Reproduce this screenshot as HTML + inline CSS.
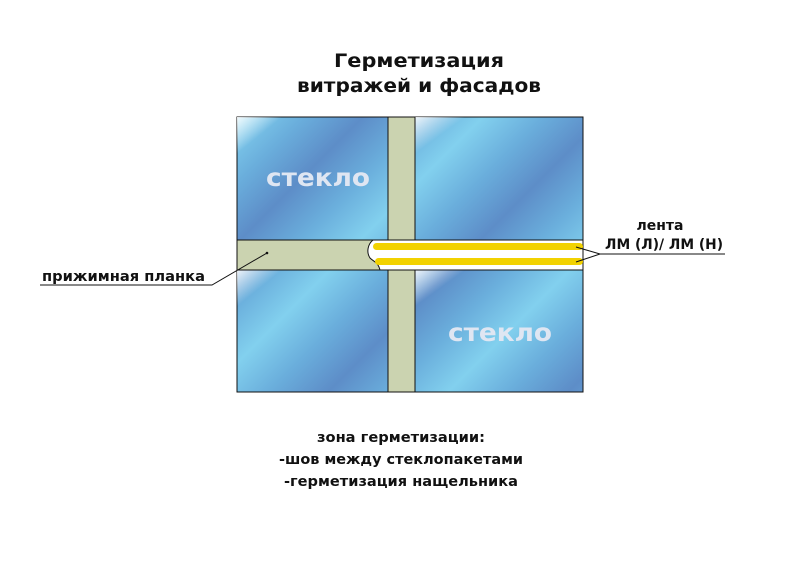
<!DOCTYPE html>
<html><head><meta charset="utf-8"><style>
body{margin:0;width:800px;height:557px;background:#fff;overflow:hidden}
svg text{font-family:"DejaVu Sans","Liberation Sans",sans-serif;font-weight:bold}
</style></head><body>
<svg width="800" height="557" viewBox="0 0 800 557" xmlns="http://www.w3.org/2000/svg">
<defs>
<linearGradient id="g" gradientUnits="userSpaceOnUse" x1="0" y1="0" x2="60" y2="60" spreadMethod="reflect">
<stop offset="0" stop-color="#5d8dc8"/><stop offset="0.5" stop-color="#6aaedc"/><stop offset="1" stop-color="#82d0ee"/>
</linearGradient>
<linearGradient id="h" x1="0" y1="0" x2="0.6" y2="0.6">
<stop offset="0" stop-color="#fff" stop-opacity="0.9"/><stop offset="0.25" stop-color="#fff" stop-opacity="0"/>
</linearGradient>
</defs>
<text x="419" y="67" font-size="19" text-anchor="middle" fill="#111" textLength="170" lengthAdjust="spacingAndGlyphs">Герметизация</text>
<text x="419" y="92" font-size="19" text-anchor="middle" fill="#111" textLength="244" lengthAdjust="spacingAndGlyphs">витражей и фасадов</text>
<g stroke="#111" stroke-width="1">
<rect x="237" y="117" width="151" height="123" fill="url(#g)"/>
<rect x="237" y="117" width="151" height="123" fill="url(#h)" stroke="none"/>
<rect x="415" y="117" width="168" height="123" fill="url(#g)"/>
<rect x="415" y="117" width="168" height="123" fill="url(#h)" stroke="none"/>
<rect x="237" y="270" width="151" height="122" fill="url(#g)"/>
<rect x="237" y="270" width="151" height="122" fill="url(#h)" stroke="none"/>
<rect x="415" y="270" width="168" height="122" fill="url(#g)"/>
<rect x="415" y="270" width="168" height="122" fill="url(#h)" stroke="none"/>
<rect x="388" y="117" width="27" height="123" fill="#cbd3b0"/>
<rect x="388" y="270" width="27" height="122" fill="#cbd3b0"/>
<rect x="237" y="240" width="346" height="30" fill="#fff"/>
<path d="M237 240 H373 C368 244 366 252 370 258 C374 262 378 262 380 270 H237 Z" fill="#cbd3b0"/>
<line x1="237" y1="240" x2="583" y2="240"/><line x1="237" y1="270" x2="583" y2="270"/>
</g>
<rect x="373" y="243" width="210" height="7" rx="3.5" fill="#f2d200"/>
<rect x="375" y="258" width="208" height="7" rx="3.5" fill="#f2d200"/>
<text x="318" y="186" font-size="25" text-anchor="middle" fill="#dfe6f2" textLength="104" lengthAdjust="spacingAndGlyphs">стекло</text>
<text x="500" y="341" font-size="25" text-anchor="middle" fill="#dfe6f2" textLength="104" lengthAdjust="spacingAndGlyphs">стекло</text>
<g stroke="#111" stroke-width="1" fill="none">
<polyline points="40,285 212,285 267,253"/>
<polyline points="576,247 600,254 725,254"/>
<line x1="576" y1="262" x2="600" y2="254"/>
</g>
<circle cx="267" cy="253" r="1.3" fill="#111"/>
<text x="42" y="281" font-size="14" fill="#111" textLength="163" lengthAdjust="spacingAndGlyphs">прижимная планка</text>
<text x="660" y="230" font-size="14" text-anchor="middle" fill="#111">лента</text>
<text x="664" y="249" font-size="14" text-anchor="middle" fill="#111" textLength="118" lengthAdjust="spacingAndGlyphs">ЛМ (Л)/ ЛМ (Н)</text>
<text x="401" y="442" font-size="14" text-anchor="middle" fill="#111" textLength="168" lengthAdjust="spacingAndGlyphs">зона герметизации:</text>
<text x="401" y="464" font-size="14" text-anchor="middle" fill="#111" textLength="244" lengthAdjust="spacingAndGlyphs">-шов между стеклопакетами</text>
<text x="401" y="486" font-size="14" text-anchor="middle" fill="#111" textLength="234" lengthAdjust="spacingAndGlyphs">-герметизация нащельника</text>
</svg>
</body></html>
